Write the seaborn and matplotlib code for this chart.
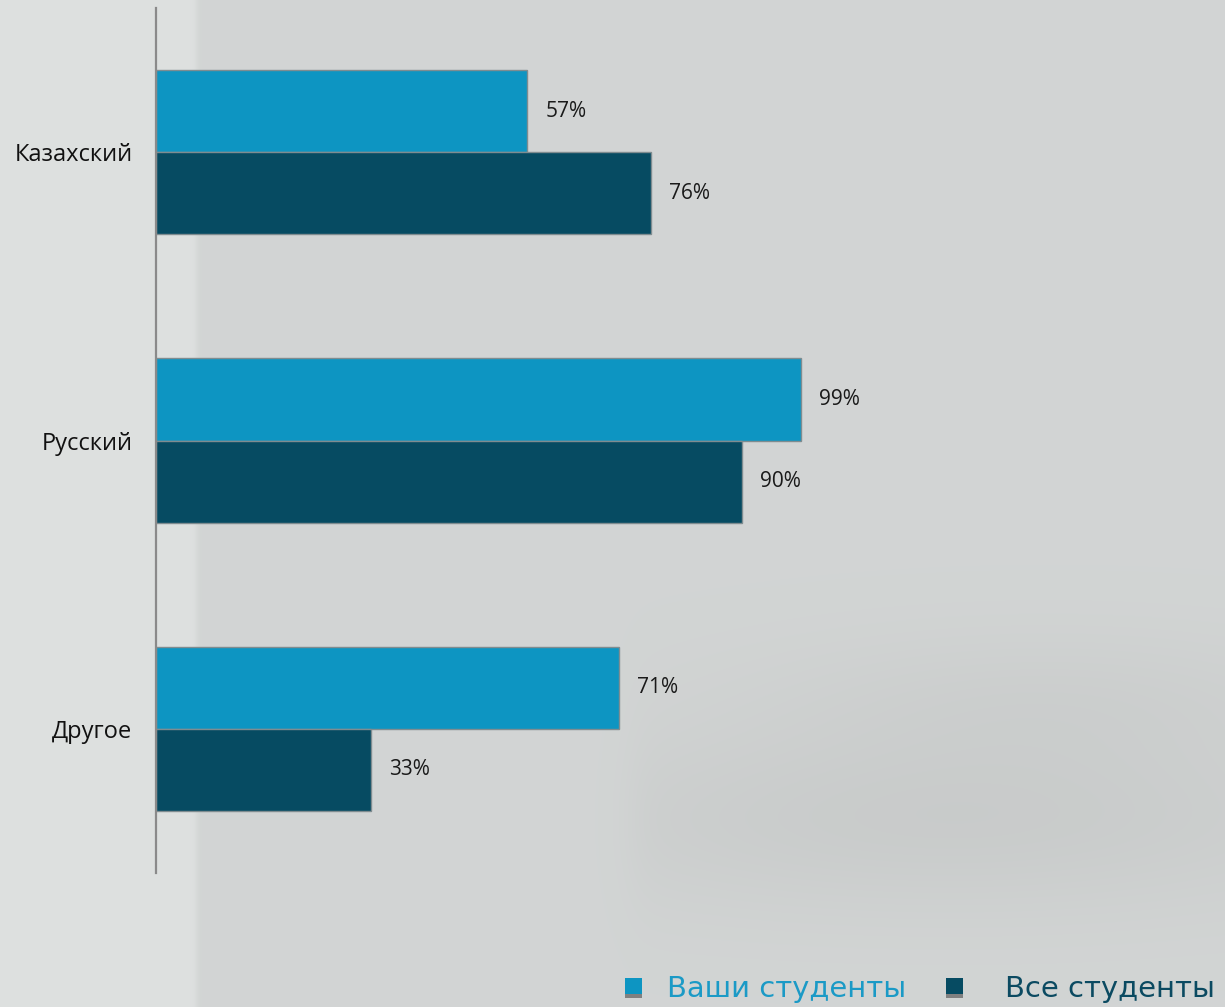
import numpy as np
import pandas as pd
import matplotlib
matplotlib.use("Agg")
import matplotlib.pyplot as plt
from matplotlib.patches import Rectangle
import seaborn as sns

# Survey data: language of study
languages = ["Казахский", "Русский", "Другое"]
groups = ["Ваши студенты", "Все студенты"]
your_students = [57, 99, 71]
all_students = [76, 90, 33]

colors = {"Ваши студенты": "#0d95c2", "Все студенты": "#064b62"}
legend_text_colors = ["#1b9ac6", "#0b4a61"]

df = pd.DataFrame({
    "language": languages * 2,
    "group": [groups[0]] * 3 + [groups[1]] * 3,
    "value": your_students + all_students,
})

sns.set_theme(style="white")
plt.rcParams["font.family"] = ["Open Sans", "DejaVu Sans"]

W, H = 1225, 1007
fig = plt.figure(figsize=(W / 100, H / 100), dpi=100)

# Soft grey backdrop: lighter left strip, faint darker haze lower right
bg_ax = fig.add_axes([0, 0, 1, 1], zorder=0)
yy, xx = np.mgrid[0:H, 0:W].astype(float)
base = np.full((H, W), 0.83)
strip = 0.045 / (1 + np.exp((xx - 196) / 1.5))
shade = -0.035 * np.exp(-(((xx - 950) / 420) ** 2 + ((yy - 820) / 90) ** 2))
shade += -0.02 * np.exp(-(((xx - 1050) / 300) ** 2 + ((yy - 700) / 70) ** 2))
edge = 1 / (1 + np.exp((xx - 630) / 10))
shade = shade * (1 - edge)
lum = base + strip + shade
img = np.dstack([lum - 0.006, lum + 0.004, lum + 0.002])
bg_ax.imshow(np.clip(img, 0, 1), aspect="auto", extent=[0, 1, 0, 1])
bg_ax.axis("off")

ax_left = 156 / W
ax_bottom = (H - 873) / H
ax_top = (H - 8) / H
ax = fig.add_axes([ax_left, ax_bottom, 1 - ax_left, ax_top - ax_bottom], zorder=1)
ax.patch.set_alpha(0)

sns.barplot(data=df, y="language", x="value", hue="group", order=languages,
            hue_order=groups, palette=colors, orient="h", width=0.57,
            saturation=1, edgecolor="#7f8c90", linewidth=1.0, legend=False, ax=ax)

px_per_unit = (801 - 156) / 99
ax.set_xlim(0, (W - 156) / px_per_unit)
ax.set_ylim(2.5, -0.5)

for container in ax.containers:
    ax.bar_label(container, labels=[f"{int(v.get_width())}%" for v in container],
                 padding=13, fontsize=15, color="#1a1a1a")

ax.set_xlabel("")
ax.set_ylabel("")
ax.set_xticks([])
ax.tick_params(axis="y", length=0, pad=17, labelsize=17, labelcolor="#111111")
for side in ["top", "right", "bottom"]:
    ax.spines[side].set_visible(False)
ax.spines["left"].set_color("#8a8a8a")
ax.spines["left"].set_linewidth(1.6)


# Legend row along the bottom edge: square swatch with a grey foot, coloured label
def px(x, y):
    return x / W, (H - y) / H


legend_items = [(625, 667), (946, 1005)]
for (sx, tx), g, tc in zip(legend_items, groups, legend_text_colors):
    x0, y0 = px(sx, 994)
    fig.add_artist(Rectangle((x0, y0), 17 / W, 16 / H, transform=fig.transFigure,
                             facecolor=colors[g], edgecolor="none", zorder=3))
    x1, y1 = px(sx, 998)
    fig.add_artist(Rectangle((x1, y1), 17 / W, 4 / H, transform=fig.transFigure,
                             facecolor="#808080", edgecolor="none", zorder=3))
    tx0, ty0 = px(tx, 997)
    fig.text(tx0, ty0, g, color=tc, fontsize=20.9, family="DejaVu Sans",
             va="baseline", ha="left", zorder=3)

fig.savefig("out.png", dpi=100)
